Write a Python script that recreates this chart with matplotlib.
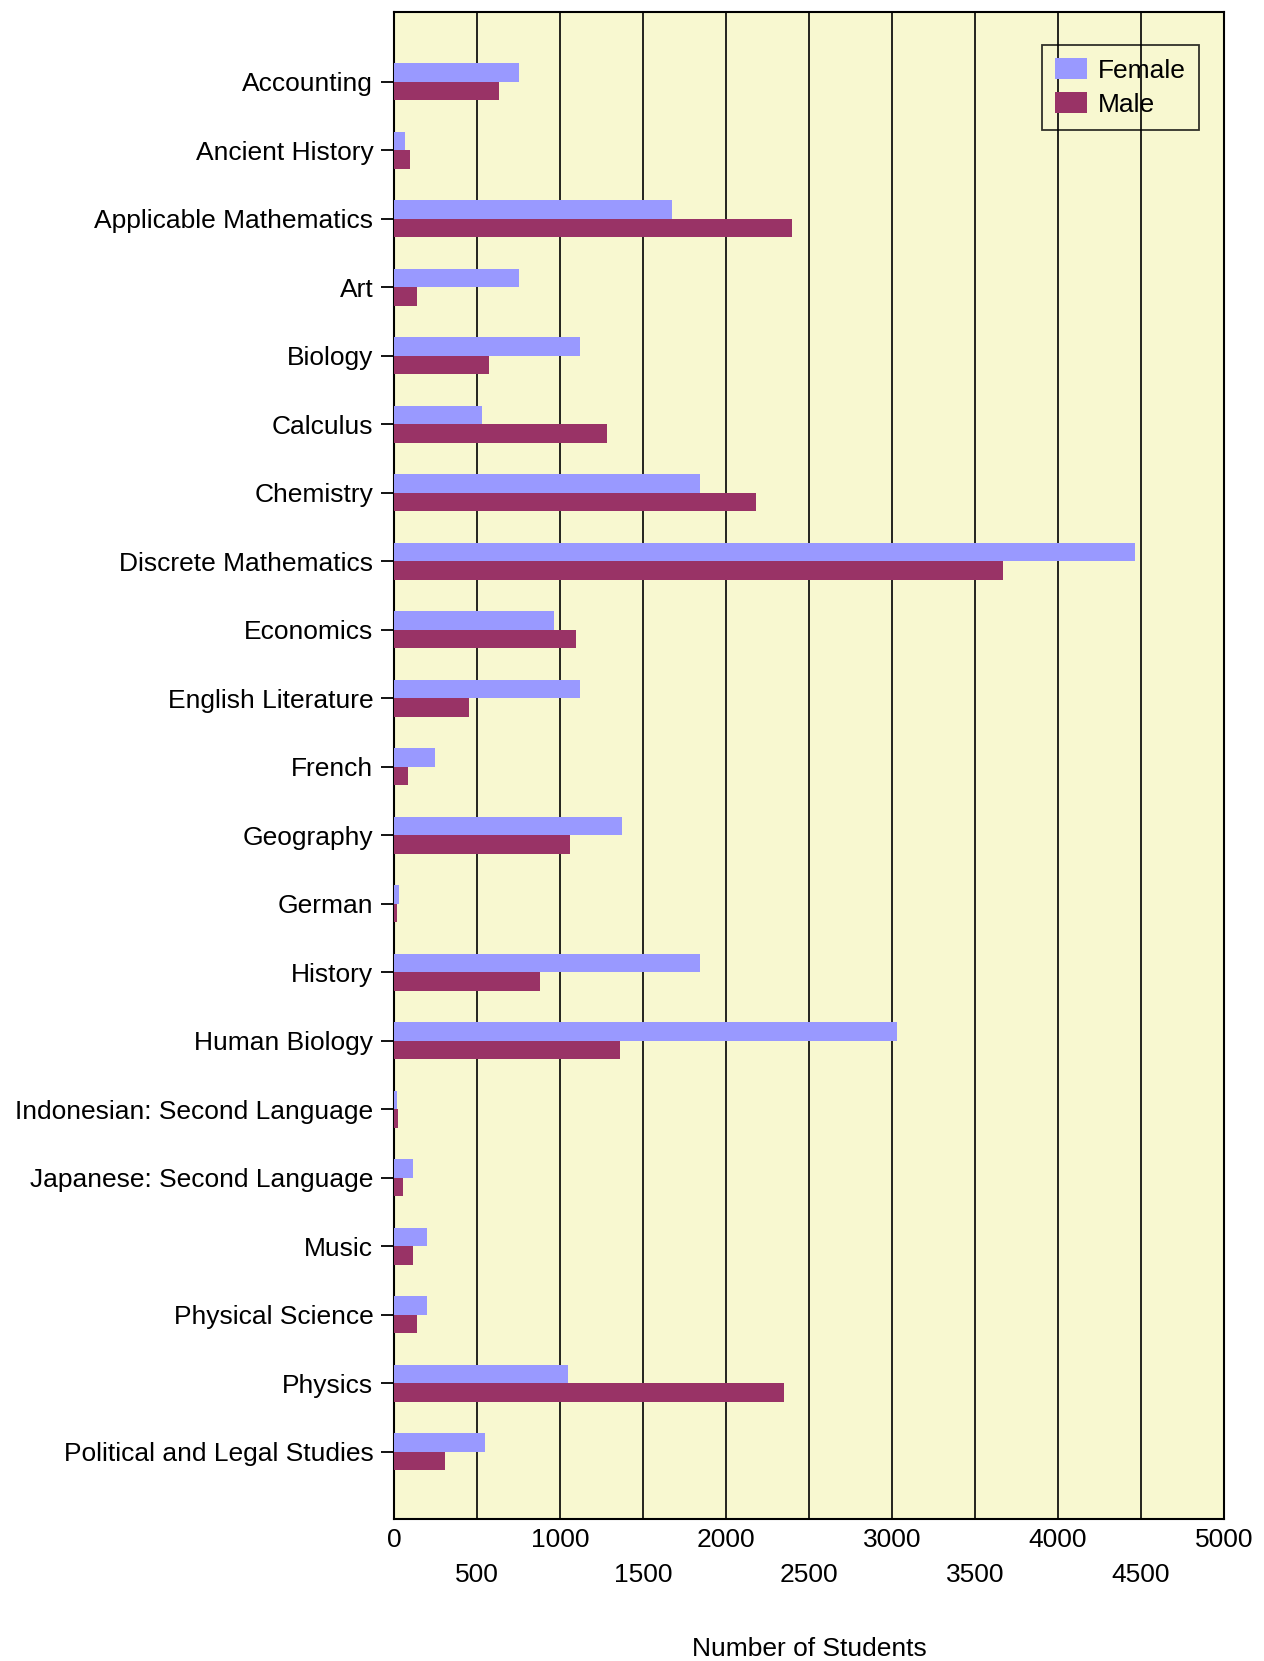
import matplotlib
matplotlib.use("Agg")
import matplotlib.pyplot as plt
import numpy as np
from matplotlib.ticker import MultipleLocator, FixedLocator

plt.rcParams['font.family'] = ['Liberation Sans', 'DejaVu Sans']

subjects = [
    "Accounting", "Ancient History", "Applicable Mathematics", "Art",
    "Biology", "Calculus", "Chemistry", "Discrete Mathematics",
    "Economics", "English Literature", "French", "Geography", "German",
    "History", "Human Biology", "Indonesian: Second Language",
    "Japanese: Second Language", "Music", "Physical Science", "Physics",
    "Political and Legal Studies",
]
female = [753, 64, 1673, 753, 1118, 530, 1845, 4465, 964, 1118, 249,
          1373, 32, 1845, 3029, 19, 115, 198, 198, 1047, 549]
male = [632, 96, 2395, 140, 575, 1284, 2178, 3668, 1098, 453, 83,
        1060, 19, 881, 1362, 22, 57, 115, 140, 2350, 307]

bg = '#F8F8D0'
c_female = '#9999FF'
c_male = '#993366'
fs = 19

fig = plt.figure(figsize=(12.64, 16.61), dpi=100)
ax = fig.add_axes([0.3117, 0.0855, 0.6567, 0.9073])
ax.set_facecolor(bg)

y = np.arange(len(subjects))
h = 0.27
ax.barh(y - h / 2, female, height=h, color=c_female, label="Female", zorder=3)
ax.barh(y + h / 2, male, height=h, color=c_male, label="Male", zorder=3)

ax.set_xlim(0, 5000)
ax.set_ylim(20.98, -1.02)

ax.set_yticks(y)
ax.set_yticklabels(subjects, fontsize=fs)
ax.tick_params(axis='y', length=9.4, width=1.3, pad=5.5, color='black')

# two rows of x labels: thousands on top, the halves below
ax.xaxis.set_major_locator(MultipleLocator(1000))
ax.xaxis.set_minor_locator(FixedLocator([500, 1500, 2500, 3500, 4500]))
ax.xaxis.set_minor_formatter(lambda v, p: f"{int(v)}")
ax.tick_params(axis='x', which='major', length=0, pad=6.5, labelsize=fs)
ax.tick_params(axis='x', which='minor', length=0, pad=32, labelsize=fs)

for v in range(500, 5000, 500):
    ax.axvline(v, color='black', lw=1.2, zorder=2)

for s in ax.spines.values():
    s.set_linewidth(1.5)
    s.set_color('black')

ax.set_xlabel("Number of Students", fontsize=fs)
ax.xaxis.set_label_coords(0.5, -0.078)

leg = ax.legend(loc='upper right', bbox_to_anchor=(0.9486, 0.9729),
                bbox_transform=fig.transFigure, borderaxespad=0,
                fontsize=fs, fancybox=False, frameon=True,
                handlelength=1.22, handleheight=0.85, handletextpad=0.4,
                labelspacing=0.35, borderpad=0.5)
leg.get_frame().set_facecolor('none')
leg.get_frame().set_edgecolor('black')
leg.get_frame().set_linewidth(1.3)
leg.set_zorder(5)

fig.savefig("out.png", dpi=100)
